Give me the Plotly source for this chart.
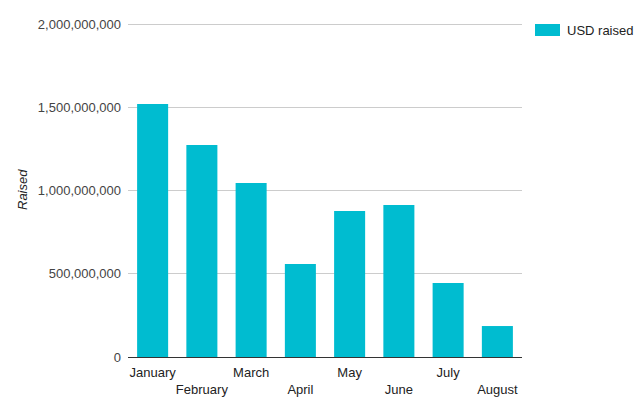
import plotly.graph_objects as go

months = ["January", "February", "March", "April", "May", "June", "July", "August"]
raised = [1520000000, 1273000000, 1045000000, 559000000, 877000000, 913000000, 444000000, 186000000]
y_ticks = [0, 500000000, 1000000000, 1500000000, 2000000000]
y_tick_labels = ["0", "500,000,000", "1,000,000,000", "1,500,000,000", "2,000,000,000"]
series_name = "USD raised"
bar_color = "#00BCD0"

tick_text = [m if i % 2 == 0 else "<br>" + m for i, m in enumerate(months)]

fig = go.Figure()
fig.add_trace(go.Bar(
    x=months, y=raised, name=series_name,
    marker=dict(color=bar_color, line=dict(width=0)),
))

font = "Liberation Sans, Arial, sans-serif"
L, R, T, B, W, H = 128, 118, 22, 53, 640, 410
pw, ph = W - L - R, H - T - B

def px(x):
    return (x - L) / pw

def py(y):
    return (H - B - y) / ph

fig.update_layout(
    width=W, height=H,
    margin=dict(l=L, r=R, t=T, b=B, autoexpand=False),
    paper_bgcolor="white", plot_bgcolor="white",
    bargap=0.37,
    showlegend=False,
    font=dict(family=font, size=13, color="#444444"),
    xaxis=dict(
        tickmode="array", tickvals=months, ticktext=tick_text, tickangle=0,
        showgrid=False, showline=True, linecolor="#333333", linewidth=1,
        ticks="", ticklabelstandoff=3,
        tickfont=dict(family=font, size=13, color="#222222"),
        automargin=False,
    ),
    yaxis=dict(
        range=[0, 2012000000],
        tickmode="array", tickvals=y_ticks, ticktext=y_tick_labels,
        showgrid=True, gridcolor="#cccccc", gridwidth=1,
        zeroline=False, showline=False, ticks="",
        ticklabelstandoff=6,
        tickfont=dict(family=font, size=13, color="#444444"),
        automargin=False,
    ),
    shapes=[dict(type="rect", xref="paper", yref="paper",
                 x0=px(535), x1=px(560), y0=py(36), y1=py(24),
                 fillcolor=bar_color, line=dict(width=0))],
    annotations=[
        dict(text=series_name, xref="paper", yref="paper", x=px(565), y=py(30),
             xanchor="left", yanchor="middle", showarrow=False,
             font=dict(family=font, size=13, color="#222222")),
        dict(text="<i>Raised</i>", xref="paper", yref="paper", x=px(22), y=py(190),
             xanchor="center", yanchor="middle", textangle=-90, showarrow=False,
             font=dict(family=font, size=13, color="#222222")),
    ],
)

fig.write_html("out.html")
